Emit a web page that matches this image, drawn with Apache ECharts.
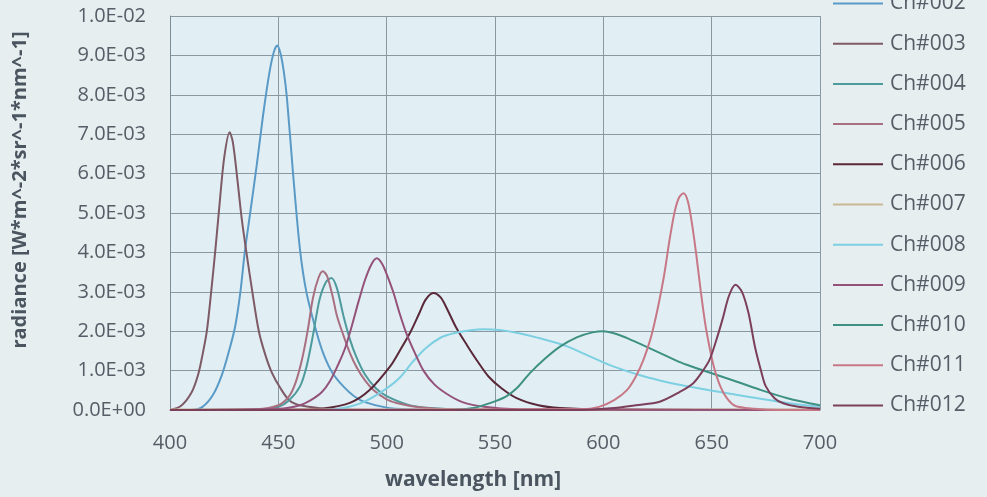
<!DOCTYPE html>
<html><head><meta charset="utf-8">
<script src="https://cdn.jsdelivr.net/npm/echarts@6/dist/echarts.min.js"></script>
<style>html,body{margin:0;padding:0;background:#e6eef0;}#c{width:987px;height:497px;}</style>
</head><body><div id="c"></div>
<script>
// values in units of 1E-03 W*m^-2*sr^-1*nm^-1
var seriesNames = ['Ch#002','Ch#003','Ch#004','Ch#005','Ch#006','Ch#007','Ch#008','Ch#009','Ch#010','Ch#011','Ch#012'];
var xTicks = [400,450,500,550,600,650,700];

var ch002_wl  = [400,410,415,420,424,427,430,432.5,434.5,437,440,443,446,448,449.5,451,452.5,454,456.8,460,463,467.7,471,475,480,485,490,500,510,530,700];
var ch002_val = [0,0.0,0.08,0.4,0.9,1.45,2.1,3.0,4.0,5.0,6.2,7.5,8.6,9.1,9.25,9.05,8.6,7.9,6.0,4.07,2.98,1.96,1.4,0.94,0.6,0.35,0.2,0.06,0.02,0,0];

var ch003_wl  = [400,405,410,413,415,417,419,421,423,425,427.5,429,431,433,435,438,441,444,447,451,455,460,470,480,500,700];
var ch003_val = [0,0.1,0.45,0.9,1.4,2.0,3.0,4.1,5.3,6.4,7.05,6.8,5.9,4.9,4.1,3.0,2.0,1.4,0.95,0.55,0.25,0.12,0.04,0.01,0,0];

var ch004_wl  = [400,440,450,455,460,463,466,469,472,474.5,477,480,483,486,490,495,500,510,520,540,700];
var ch004_val = [0,0.01,0.08,0.25,0.6,1.1,1.9,2.8,3.25,3.35,3.1,2.4,1.8,1.35,0.9,0.55,0.35,0.13,0.05,0.01,0];

var ch005_wl  = [400,440,450,455,458,461,463.5,466,468.5,470.5,472.5,475,477,480,483,486,490,494,500,505,515,530,700];
var ch005_val = [0,0.02,0.12,0.35,0.7,1.3,2.0,2.85,3.35,3.52,3.4,2.9,2.4,1.9,1.45,1.1,0.75,0.5,0.27,0.17,0.07,0.02,0];

var ch006_wl  = [400,460,470,483,492,501.5,506,510.8,515,518,521.5,525,528,532,537,541.5,547,553,560,570,580,600,700];
var ch006_val = [0,0.01,0.03,0.18,0.5,1.1,1.5,1.96,2.45,2.8,2.97,2.85,2.55,2.1,1.65,1.27,0.85,0.55,0.3,0.12,0.05,0.01,0];

var ch007_wl  = [400,500,600,700];
var ch007_val = [0.01,0.01,0.01,0.01];

var ch008_wl  = [400,470,480,490,500,506,512,518,525,531,538,545,552,560,570,583,593,603,617,626,635,649,660,672,685,700];
var ch008_val = [0,0,0.05,0.22,0.55,0.82,1.22,1.57,1.84,1.95,2.02,2.05,2.03,1.96,1.83,1.62,1.38,1.14,0.88,0.75,0.64,0.5,0.4,0.29,0.18,0.08];

var ch009_wl  = [400,450,460,465,470,474,478,481,484,487,490,493,495.5,498,500,503,506,509,513,517,522,528,535,545,560,700];
var ch009_val = [0,0.03,0.12,0.25,0.45,0.75,1.2,1.6,2.15,2.75,3.3,3.7,3.85,3.7,3.45,3.0,2.45,1.96,1.45,1.0,0.65,0.4,0.2,0.08,0.02,0];

var ch010_wl  = [400,530,540,548,555,560,566,573,580,588,595,600,606,612,620,628,635,642,649,660,672,685,700];
var ch010_val = [0,0,0.05,0.18,0.34,0.55,0.93,1.3,1.61,1.85,1.97,2.0,1.93,1.8,1.6,1.4,1.22,1.08,0.95,0.75,0.52,0.3,0.12];

var ch011_wl  = [400,590,598,605,611,615,618.5,622,625,628,630.5,633,635,637,639,641,643,645,647,649,651,654,657,661,670,680,700];
var ch011_val = [0,0.02,0.08,0.25,0.51,0.85,1.27,1.85,2.55,3.4,4.3,5.05,5.4,5.5,5.3,4.7,3.9,3.0,2.2,1.6,1.1,0.6,0.3,0.1,0.03,0,0];

var ch012_wl  = [400,590,605,615,626,635,641.5,646,649,652,655,658,661,664,667,670,673,675,679,683,690,700];
var ch012_val = [0,0,0.05,0.12,0.21,0.45,0.68,1.0,1.27,1.75,2.3,2.9,3.18,3.0,2.46,1.6,0.95,0.6,0.3,0.17,0.08,0.03];

var seriesColors = ['#5a9ac6','#7d5a66','#4e9a9c','#a86f80','#5a2838','#c9b894','#7dcfe2','#94527a','#3e9182','#c77886','#7c3f5a'];

var wls  = [ch002_wl,ch003_wl,ch004_wl,ch005_wl,ch006_wl,ch007_wl,ch008_wl,ch009_wl,ch010_wl,ch011_wl,ch012_wl];
var vals = [ch002_val,ch003_val,ch004_val,ch005_val,ch006_val,ch007_val,ch008_val,ch009_val,ch010_val,ch011_val,ch012_val];

function fmtE(v){
  if (Math.abs(v) < 1e-12) return '0.0E+00';
  var e = Math.floor(Math.log10(Math.abs(v)) + 1e-9);
  var m = v / Math.pow(10, e);
  var s = e < 0 ? '-' : '+';
  var ae = Math.abs(e);
  return m.toFixed(1) + 'E' + s + (ae < 10 ? '0' + ae : '' + ae);
}

var series = seriesNames.map(function(n, i){
  return {
    name: n, type: 'line', showSymbol: false, smooth: 0.3,
    lineStyle: {width: 2, color: seriesColors[i]},
    itemStyle: {color: seriesColors[i]},
    data: wls[i].map(function(w, j){ return [w, vals[i][j] * 0.001]; })
  };
});

var chart = echarts.init(document.getElementById('c'));
chart.setOption({
  backgroundColor: '#e6eef0',
  animation: false,
  grid: {left: 170, right: 167, top: 16, bottom: 87, show: true, backgroundColor: '#e1eff4', borderWidth: 0},
  legend: {
    orient: 'vertical', left: 833, top: -7, padding: 0, itemWidth: 50, itemHeight: 16, itemGap: 19.2,
    icon: 'path://M0,7 L50,7 L50,9 L0,9 Z',
    textStyle: {fontFamily: 'Open Sans', fontSize: 21, lineHeight: 21, color: '#555d66', padding: [0,0,0,2]},
    data: seriesNames
  },
  xAxis: {
    type: 'value', min: 400, max: 700, interval: 50,
    name: 'wavelength [nm]', nameLocation: 'middle', nameGap: 60,
    nameTextStyle: {fontFamily: 'Open Sans', fontWeight: 'bold', fontSize: 21, color: '#4a5560', padding: [0,44,0,0]},
    axisLine: {lineStyle: {color: '#7e8c94', width: 1}},
    axisTick: {show: false},
    axisLabel: {margin: 23, fontFamily: 'Open Sans', fontSize: 20, color: '#555d66', formatter: function(v){ return xTicks.indexOf(v) >= 0 ? String(v) : ''; }},
    splitLine: {show: true, lineStyle: {color: '#8a99a1', width: 1}}
  },
  yAxis: {
    type: 'value', min: 0, max: 0.01, interval: 0.001,
    name: 'radiance [W*m^-2*sr^-1*nm^-1]', nameLocation: 'middle', nameGap: 140,
    nameTextStyle: {fontFamily: 'Open Sans', fontWeight: 'bold', fontSize: 20, color: '#4a5560', padding: [0,0,0,46]},
    axisLine: {show: true, lineStyle: {color: '#7e8c94'}},
    axisTick: {show: false},
    axisLabel: {margin: 24, fontFamily: 'Open Sans', fontSize: 20, color: '#555d66', formatter: fmtE},
    splitLine: {show: true, lineStyle: {color: '#8a99a1', width: 1}}
  },
  series: series
});
</script>
</body></html>
